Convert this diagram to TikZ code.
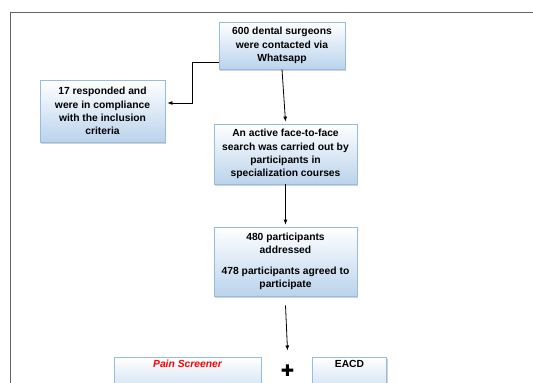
\documentclass[tikz,border=0pt]{standalone}
\usepackage{fontspec}
\setmainfont{Liberation Sans}
\newfontfamily\symfont{DejaVu Sans}
\usetikzlibrary{arrows.meta,shadows}
\definecolor{boxline}{RGB}{150,188,222}
\definecolor{boxfill}{RGB}{186,211,236}
\definecolor{framegray}{RGB}{100,100,100}
\begin{document}
\begin{tikzpicture}[x=1pt,y=-1pt,
  every node/.style={font=\fontsize{10.3}{13.2}\selectfont\bfseries},
  box/.style={draw=boxline,line width=0.8pt,top color=white,bottom color=boxfill,
    drop shadow={shadow xshift=1.2pt,shadow yshift=-1.5pt,fill=black!35},
    align=center,inner sep=2pt},
  arrow/.style={-{Latex[length=5pt,width=4pt]},line width=0.8pt}]
 \useasboundingbox (0,0) rectangle (533,383);
 \clip (0,0) rectangle (533,383);
 \draw[framegray,line width=0.9pt] (10,400) -- (10,12) -- (540,12);
 \node[box,minimum width=126pt,minimum height=47pt] (top) at (282,45.5)
   {600 dental surgeons\\were contacted via\\Whatsapp};
 \node[box,minimum width=125pt,minimum height=62pt] (resp) at (102.5,111)
   {17 responded and\\were in compliance\\with the inclusion\\criteria};
 \node[box,minimum width=143pt,minimum height=60pt] (search) at (285.5,154)
   {An active face-to-face\\search was carried out by\\participants in\\specialization courses};
 \node[box,minimum width=143pt,minimum height=69pt] (part) at (285.5,261.5)
   {480 participants\\addressed\\[8pt]478 participants agreed to\\participate};
 \node[box,anchor=north,minimum width=147pt,text height=7.5pt,text depth=34pt,inner sep=3pt] (pain) at (187.5,357)
   {\color{red}\itshape Pain Screener};
 \node[box,anchor=north,minimum width=74pt,text height=7.5pt,text depth=34pt,inner sep=3pt] (eacd) at (349.5,357)
   {EACD};
 \node[font=\symfont\fontsize{16}{16}\selectfont,inner sep=0pt] (plus) at (287.5,370.5) {✚};
 % connectors
 \draw[arrow] ([yshift=-17pt]top.west) -- ++(-26,0) |- ([xshift=2pt,yshift=8pt]resp.east);
 \draw[arrow] (top.south) -- ([yshift=2pt]search.north);
 \draw[arrow] (search.south) -- ([yshift=2pt]part.north);
 \draw[arrow] ([yshift=-9pt]part.south) -- ([yshift=14pt]plus.north);
\end{tikzpicture}
\end{document}
